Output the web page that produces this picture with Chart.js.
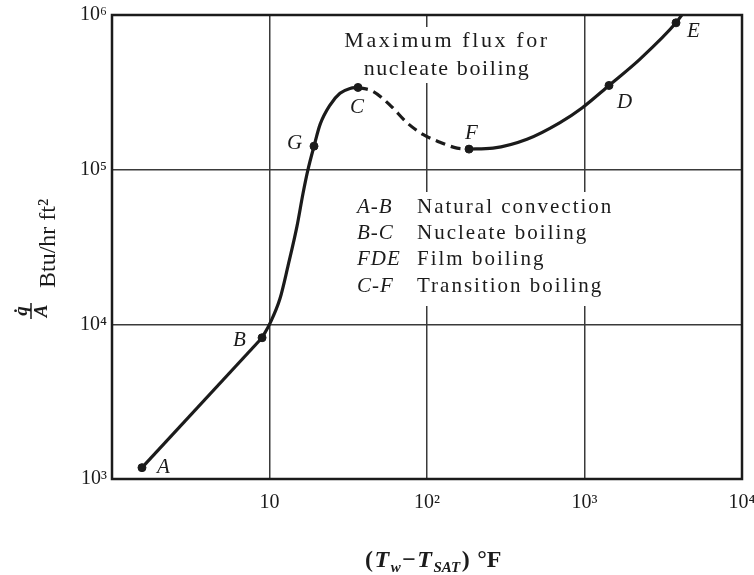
<!DOCTYPE html>
<html lang="en">
<head>
    <meta charset="UTF-8">
    <title>Boiling curve</title>
    <script src="https://cdn.jsdelivr.net/npm/chart.js"></script>
    <style>
        html, body { margin: 0; padding: 0; background: #fff; }
        #wrap { width: 754px; height: 575px; }
    </style>
</head>
<body>
    <div id="wrap"><canvas id="boilingChart" width="754" height="575"></canvas></div>
    <script>
        // Values: (Tw - Tsat) in °F, q/A in Btu/hr ft²
        const naturalX = [1.55, 8.97];
        const naturalQ = [1184, 8190];

        const nucleateX = [8.97, 10.07, 11.66, 13.11, 14.95, 16.32, 17.55, 19.17, 20.93, 24.22, 28.03, 32.44, 36.48];
        const nucleateQ = [8190, 10150, 14680, 23880, 43120, 70150, 100000, 141900, 195500, 261600, 311700, 335200, 340100];

        const transitionX = [36.48, 45.4, 58.2, 74.6, 94.3, 120.9, 155.1, 184.8];
        const transitionQ = [340100, 320800, 261600, 201300, 169000, 150400, 137800, 135800];

        const filmX = [184.8, 262.4, 431.4, 699, 964, 1431, 2251, 3811, 4150];
        const filmQ = [135800, 137800, 157100, 201300, 250400, 350300, 518900, 890000, 1000000];

        const pointNames = ['A', 'B', 'G', 'C', 'F', 'D', 'E'];
        const pointX = [1.55, 8.97, 19.17, 36.48, 184.8, 1431, 3811];
        const pointQ = [1184, 8190, 141900, 340100, 135800, 350300, 890000];

        const xTicks = [1, 10, 100, 1000, 10000];
        const xTickLabels = ['', '10', '10²', '10³', '10⁴'];
        const yTicks = [1000, 10000, 100000, 1000000];
        const yTickLabels = ['10³', '10⁴', '10⁵', '10⁶'];

        const legendKeys = ['A-B', 'B-C', 'FDE', 'C-F'];
        const legendTexts = ['Natural convection', 'Nucleate boiling', 'Film boiling', 'Transition boiling'];

        const ink = '#1b1b1b';
        const serif = '"Liberation Serif", "DejaVu Serif", serif';

        function toPoints(xs, ys) {
            return xs.map((x, i) => ({ x: x, y: ys[i] }));
        }

        // label offsets from each dot (pixels)
        const labelOffsets = {
            A: [15, 5], B: [-29, 8], G: [-27, 3], C: [-8, 26],
            F: [-4, -10], D: [8, 23], E: [11, 14]
        };

        const textPlugin = {
            id: 'boilingText',
            beforeDatasetsDraw(chart) {
                const ctx = chart.ctx;
                ctx.save();
                // white boxes behind the text, hiding the grid there
                ctx.fillStyle = '#fff';
                ctx.fillRect(338, 27, 218, 56);
                ctx.fillRect(340, 192, 276, 114);

                ctx.fillStyle = ink;
                ctx.textBaseline = 'alphabetic';
                ctx.font = '22px ' + serif;
                ctx.textAlign = 'center';
                ctx.letterSpacing = '2.6px';
                ctx.fillText('Maximum flux for', 447, 47);
                ctx.letterSpacing = '1.6px';
                ctx.fillText('nucleate boiling', 447, 75);

                ctx.textAlign = 'left';
                const baselines = [213, 239, 265, 292];
                legendKeys.forEach((k, i) => {
                    ctx.font = 'italic 21px ' + serif;
                    ctx.letterSpacing = '1px';
                    ctx.fillText(k, 357, baselines[i]);
                    ctx.font = '21px ' + serif;
                    ctx.letterSpacing = '2px';
                    ctx.fillText(legendTexts[i], 417, baselines[i]);
                });
                ctx.restore();
            },
            afterDatasetsDraw(chart) {
                const ctx = chart.ctx;
                const area = chart.chartArea;
                const xs = chart.scales.x, ys = chart.scales.y;
                ctx.save();
                ctx.strokeStyle = ink;
                ctx.lineWidth = 2.5;
                ctx.strokeRect(area.left, area.top, area.right - area.left, area.bottom - area.top);

                ctx.fillStyle = ink;
                ctx.font = 'italic 21px ' + serif;
                ctx.textAlign = 'left';
                ctx.textBaseline = 'alphabetic';
                pointNames.forEach((n, i) => {
                    const px = xs.getPixelForValue(pointX[i]);
                    const py = ys.getPixelForValue(pointQ[i]);
                    const off = labelOffsets[n];
                    ctx.fillText(n, px + off[0], py + off[1]);
                });
                ctx.restore();
            },
            afterDraw(chart) {
                const ctx = chart.ctx;
                ctx.save();
                ctx.fillStyle = ink;
                ctx.textBaseline = 'alphabetic';

                // x axis title: (Tw - TSAT) °F
                const parts = [
                    ['(', 'bold 24px ', 0],
                    ['T', 'bold italic 24px ', 0],
                    ['w', 'bold italic 15px ', 5],
                    ['\u2212', 'bold 24px ', 0],
                    ['T', 'bold italic 24px ', 0],
                    ['SAT', 'bold italic 15px ', 5],
                    [')', 'bold 24px ', 0],
                    [' \u00b0F', 'bold 24px ', 0]
                ];
                let total = 0;
                parts.forEach(p => { ctx.font = p[1] + serif; total += ctx.measureText(p[0]).width + 1.5; });
                let cx = 434 - total / 2;
                parts.forEach(p => {
                    ctx.font = p[1] + serif;
                    ctx.fillText(p[0], cx, 567 + p[2]);
                    cx += ctx.measureText(p[0]).width + 1.5;
                });

                // y axis title: q-dot over A, Btu/hr ft²
                ctx.translate(31, 311);
                ctx.rotate(-Math.PI / 2);
                ctx.textAlign = 'center';
                ctx.font = 'bold italic 19px ' + serif;
                ctx.fillText('q\u0307', 0, -4);
                ctx.fillText('A', 0, 16);
                ctx.strokeStyle = ink;
                ctx.lineWidth = 1.5;
                ctx.beginPath();
                ctx.moveTo(-8, 0);
                ctx.lineTo(8, 0);
                ctx.stroke();
                ctx.textAlign = 'left';
                ctx.font = '24px ' + serif;
                ctx.fillText('Btu/hr ft\u00b2', 23, 24);
                ctx.restore();
            }
        };

        const curveStyle = {
            showLine: true,
            borderColor: ink,
            borderWidth: 3.2,
            pointRadius: 0,
            cubicInterpolationMode: 'monotone'
        };

        new Chart(document.getElementById('boilingChart'), {
            type: 'scatter',
            data: {
                datasets: [
                    Object.assign({}, curveStyle, { label: 'A-B', data: toPoints(naturalX, naturalQ), cubicInterpolationMode: 'default', tension: 0 }),
                    Object.assign({}, curveStyle, { label: 'B-C', data: toPoints(nucleateX, nucleateQ) }),
                    Object.assign({}, curveStyle, { label: 'C-F', data: toPoints(transitionX, transitionQ), borderDash: [10, 6] }),
                    Object.assign({}, curveStyle, { label: 'FDE', data: toPoints(filmX, filmQ) }),
                    {
                        label: 'points',
                        data: toPoints(pointX, pointQ),
                        showLine: false,
                        pointRadius: 4,
                        pointBackgroundColor: ink,
                        pointBorderColor: ink
                    }
                ]
            },
            options: {
                responsive: false,
                animation: false,
                layout: { padding: { top: 15, right: 12, left: 0, bottom: 0 }, autoPadding: false },
                plugins: { legend: { display: false }, tooltip: { enabled: false } },
                scales: {
                    x: {
                        type: 'logarithmic',
                        min: 1,
                        max: 10000,
                        afterBuildTicks: s => { s.ticks = xTicks.map(v => ({ value: v })); },
                        afterFit: s => { s.height = 96; s.paddingLeft = 0; s.paddingRight = 0; },
                        ticks: {
                            autoSkip: false,
                            maxRotation: 0,
                            padding: 12,
                            color: ink,
                            font: { family: serif, size: 20 },
                            callback: (v) => xTickLabels[xTicks.indexOf(v)]
                        },
                        grid: { color: '#3a3a3a', lineWidth: 1.5, drawTicks: false },
                        border: { display: false }
                    },
                    y: {
                        type: 'logarithmic',
                        min: 1000,
                        max: 1000000,
                        afterBuildTicks: s => { s.ticks = yTicks.map(v => ({ value: v })); },
                        afterFit: s => { s.width = 112; s.paddingTop = 0; s.paddingBottom = 0; },
                        ticks: {
                            autoSkip: false,
                            padding: 5,
                            color: ink,
                            font: { family: serif, size: 20 },
                            callback: (v) => yTickLabels[yTicks.indexOf(v)]
                        },
                        grid: { color: '#3a3a3a', lineWidth: 1.5, drawTicks: false },
                        border: { display: false }
                    }
                }
            },
            plugins: [textPlugin]
        });
    </script>
</body>
</html>
